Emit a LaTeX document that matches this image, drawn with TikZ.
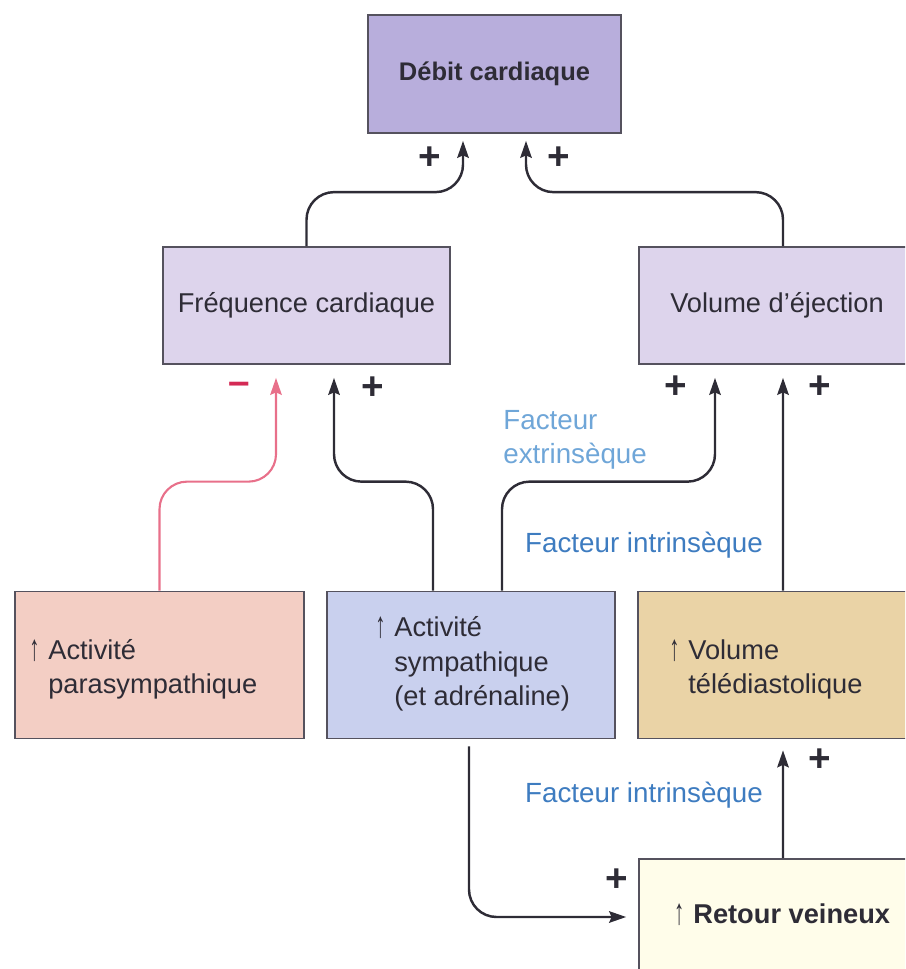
\documentclass[tikz,border=0pt]{standalone}
\usepackage{fontspec}
\usepackage{graphicx}
\setmainfont{Liberation Sans}
\usetikzlibrary{arrows.meta, calc, positioning}
\definecolor{ink}       {HTML}{2E2C36}
\definecolor{edge}      {HTML}{55525E}
\definecolor{debitfill} {HTML}{B8AEDC}
\definecolor{midfill}   {HTML}{DDD4EC}
\definecolor{parafill}  {HTML}{F3CEC4}
\definecolor{sympfill}  {HTML}{C9D0EE}
\definecolor{vtdfill}   {HTML}{EAD3A6}
\definecolor{retourfill}{HTML}{FFFDEA}
\definecolor{redline}   {HTML}{E8708A}
\definecolor{redsign}   {HTML}{D42A55}
\definecolor{extr}      {HTML}{6FA6D8}
\definecolor{intr}      {HTML}{3E7CC0}
\newcommand\hausse{\llap{\raisebox{-0.5pt}{\scalebox{0.75}[1.35]{↑}}\hspace{5pt}}}
\tikzset{
  box/.style     = {draw=edge, line width=1pt, inner sep=0pt, text=ink,
                    font=\fontsize{15.5}{19.6}\selectfont},
  topbox/.style  = {box, fill=debitfill, minimum width=5.06cm, minimum height=2.36cm,
                    font=\fontsize{14.5}{17}\selectfont\bfseries},
  midbox/.style  = {box, fill=midfill, minimum width=5.74cm, minimum height=2.34cm},
  lowbox/.style  = {box, minimum height=2.94cm},
  boxtxt/.style  = {anchor=west, align=left, inner sep=0pt, text=ink,
                    font=\fontsize{15.5}{19.6}\selectfont},
  arr/.style     = {-{Stealth[length=0.34cm, width=0.23cm, inset=0.05cm]},
                    line width=1.4pt, ink, rounded corners=0.55cm},
  redarr/.style  = {arr, draw=redline, line width=1.2pt},
  sign/.style    = {inner sep=0pt, text=ink, font=\fontsize{22}{22}\selectfont\bfseries},
  extlabel/.style= {inner sep=0pt, text=extr, align=left,
                    font=\fontsize{15.8}{19.3}\selectfont},
  intlabel/.style= {inner sep=0pt, text=intr, font=\fontsize{15.8}{19.3}\selectfont},
}
\begin{document}
\begin{tikzpicture}[x=0.02cm, y=-0.02cm]
  \useasboundingbox (0,0) rectangle (905,969);
  \clip (0,0) rectangle (905,969);

  \node[topbox] (debit) at (494.5,74) {Débit cardiaque};
  \node[midbox] (freq) at (306.5,305.5) {Fréquence cardiaque};
  \node[midbox, minimum width=5.52cm] (ejec) at (777,305.5) {Volume d'éjection};

  \node[lowbox, fill=parafill, minimum width=5.78cm] (para) at (159.5,665) {};
  \node[lowbox, fill=sympfill, minimum width=5.76cm] (symp) at (471,665) {};
  \node[lowbox, fill=vtdfill, minimum width=5.54cm] (vtd) at (776.5,665) {};
  \node[box, fill=retourfill, minimum width=5.52cm, minimum height=2.42cm] (retour) at (777,919.5) {};

  \node[boxtxt] (parat) at (48,669.5) {\hausse Activité\\parasympathique};
  \node[boxtxt] (sympt) at (394,664) {\hausse Activité\\sympathique\\(et adrénaline)};
  \node[boxtxt] (vtdt) at (688,669.5) {\hausse Volume\\télédiastolique};
  \node[boxtxt, font=\fontsize{15.5}{19.6}\selectfont\bfseries] (retourt) at (693,915) {\hausse Retour veineux};

  \draw[arr] (freq.north) -- ++(0,-54) -| ($(debit.south)+(-31.5,7)$);
  \draw[arr] ($(ejec.north)+(6,0)$) -- ++(0,-54) -| ($(debit.south)+(31.5,7)$);
  \draw[redarr] (para.north) -- ++(0,-109) -| ($(freq.south)+(-30.5,13)$);
  \draw[arr] ($(symp.north)+(-38,0)$) -- ++(0,-109) -| ($(freq.south)+(27.5,13)$);
  \draw[arr] ($(symp.north)+(31,0)$) -- ++(0,-109) -| ($(ejec.south)+(-62,13)$);
  \draw[arr] ($(vtd.north)+(6.5,0)$) -- ($(ejec.south)+(6,13)$);
  \draw[arr] ($(symp.south)+(-2,7)$) |- ($(retour.west)+(-12,-2.5)$);
  \draw[arr] ($(retour.north)+(6,0)$) -- ($(vtd.south)+(6.5,11)$);

  \node[sign] (pdebg) at (430,158) {+};
  \node[sign] (pdebd) at (559,158) {+};
  \node[sign, text=redsign] (mfreq) at (239,388) {–};
  \node[sign] (pfreq) at (373,388) {+};
  \node[sign] (pejecg) at (676,387) {+};
  \node[sign] (pejecd) at (820,387) {+};
  \node[sign] (pvtd) at (820,760) {+};
  \node[sign] (pret) at (617,880) {+};

  \node[extlabel, anchor=west] (fext) at (503,440) {Facteur\\extrinsèque};
  \node[intlabel] (finth) at (644,545) {Facteur intrinsèque};
  \node[intlabel] (fintb) at (644,795) {Facteur intrinsèque};
\end{tikzpicture}
\end{document}
